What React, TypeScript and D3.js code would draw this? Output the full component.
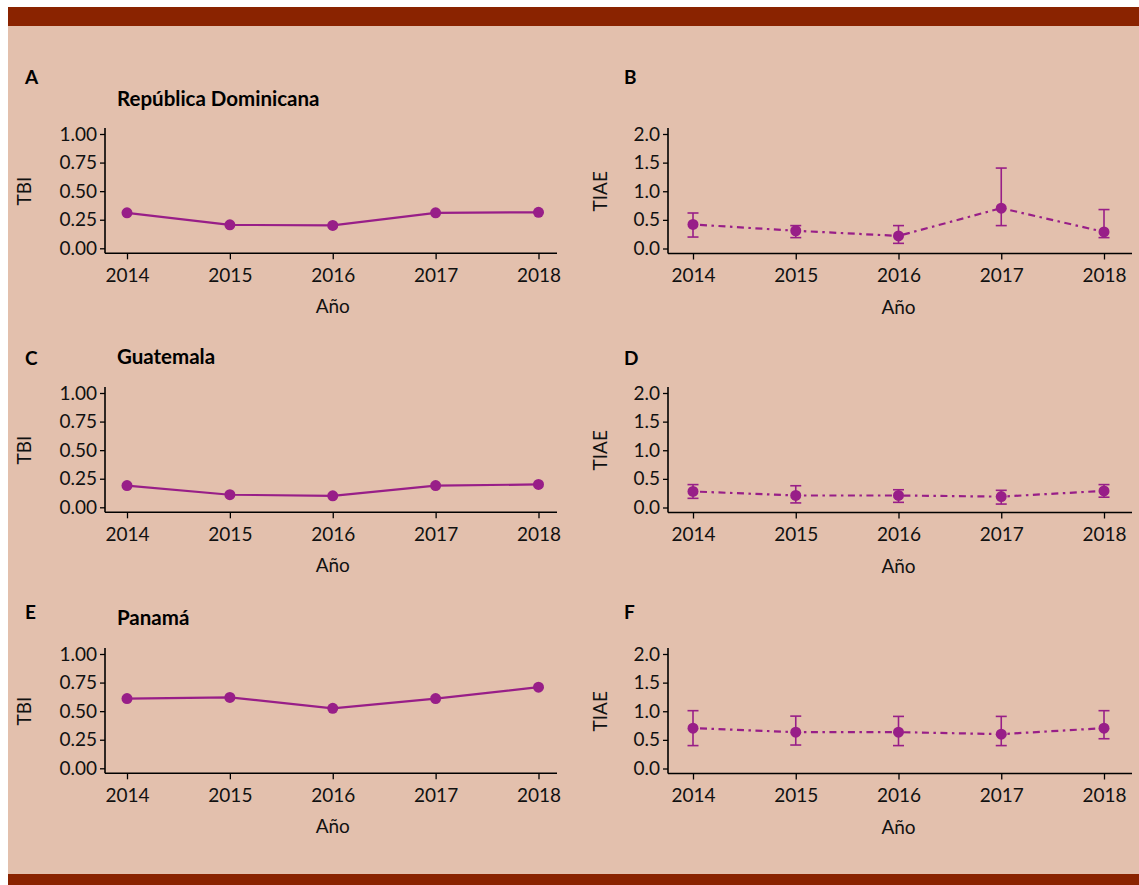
import React, { useEffect, useRef } from "react";
import * as d3 from "d3";

const years = [2014, 2015, 2016, 2017, 2018];

// TBI per country
const tbiRD = [0.31, 0.205, 0.2, 0.31, 0.315];
const tbiGT = [0.19, 0.11, 0.1, 0.19, 0.2];
const tbiPA = [0.61, 0.62, 0.525, 0.61, 0.71];

// TIAE estimate with lower/upper limits
const tiaeRD = [0.42, 0.31, 0.22, 0.705, 0.29];
const tiaeRDLow = [0.2, 0.19, 0.09, 0.4, 0.19];
const tiaeRDHigh = [0.62, 0.4, 0.4, 1.405, 0.68];

const tiaeGT = [0.28, 0.21, 0.21, 0.19, 0.29];
const tiaeGTLow = [0.16, 0.08, 0.09, 0.06, 0.18];
const tiaeGTHigh = [0.4, 0.38, 0.31, 0.3, 0.4];

const tiaePA = [0.705, 0.635, 0.635, 0.6, 0.705];
const tiaePALow = [0.4, 0.41, 0.4, 0.4, 0.52];
const tiaePAHigh = [1.01, 0.915, 0.91, 0.91, 1.01];

const countries = ["República Dominicana", "Guatemala", "Panamá"];
const leftLetters = ["A", "C", "E"];
const rightLetters = ["B", "D", "F"];
const tbiTicks = [0, 0.25, 0.5, 0.75, 1];
const tiaeTicks = [0, 0.5, 1, 1.5, 2];

const COLOR = "#981e88";
const FONT = "Lato, 'Open Sans', sans-serif";

const App = () => {
  const ref = useRef<SVGSVGElement>(null);

  useEffect(() => {
    const svg = d3.select(ref.current);
    svg.selectAll("*").remove();

    // page background and bars
    svg.append("rect").attr("width", 1139).attr("height", 885).attr("fill", "#fff");
    svg.append("rect").attr("x", 8).attr("y", 7).attr("width", 1131).attr("height", 878).attr("fill", "#e3c0ad");
    svg.append("rect").attr("x", 8).attr("y", 7).attr("width", 1131).attr("height", 19).attr("fill", "#8a2300");
    svg.append("rect").attr("x", 8).attr("y", 874).attr("width", 1131).attr("height", 11).attr("fill", "#8a2300");

    const rowOffsets = [0, 259, 520];
    const tbiSets = [tbiRD, tbiGT, tbiPA];
    const tiaeSets = [
      [tiaeRD, tiaeRDLow, tiaeRDHigh],
      [tiaeGT, tiaeGTLow, tiaeGTHigh],
      [tiaePA, tiaePALow, tiaePAHigh],
    ];
    const letterY = [77, 358, 612];
    const titleY = [99, 357, 618];

    const drawAxes = (g, x, y, ticks, fmt, axisLeftX, axisRightX, yLabel, labelX) => {
      const base = y.range()[0] + 5;
      const top = y.range()[1] - 6;
      g.append("line").attr("x1", axisLeftX).attr("x2", axisRightX).attr("y1", base).attr("y2", base)
        .attr("stroke", "#000").attr("stroke-width", 1.6);
      g.append("line").attr("x1", axisLeftX).attr("x2", axisLeftX).attr("y1", top).attr("y2", base)
        .attr("stroke", "#000").attr("stroke-width", 1.6);

      const yAxis = g.append("g")
        .attr("transform", `translate(${axisLeftX},0)`)
        .call(d3.axisLeft(y).tickValues(ticks).tickFormat(fmt).tickSize(5).tickPadding(3));
      yAxis.select(".domain").remove();

      const xAxis = g.append("g")
        .attr("transform", `translate(0,${base})`)
        .call(d3.axisBottom(x).tickValues(years).tickFormat(d3.format("d")).tickSize(6).tickPadding(9));
      xAxis.select(".domain").remove();

      g.selectAll(".tick line").attr("stroke", "#000").attr("stroke-width", 1.3);
      g.selectAll(".tick text").attr("font-family", FONT).attr("font-size", 19).attr("fill", "#111");

      g.append("text")
        .attr("x", (x(2014) + x(2018)) / 2)
        .attr("y", base + 60)
        .attr("text-anchor", "middle")
        .attr("font-family", FONT).attr("font-size", 19).attr("fill", "#111")
        .text("Año");

      g.append("text")
        .attr("transform", `translate(${labelX},${(y.range()[0] + y.range()[1]) / 2}) rotate(-90)`)
        .attr("text-anchor", "middle")
        .attr("font-family", FONT).attr("font-size", 19).attr("fill", "#111")
        .text(yLabel);
    };

    rowOffsets.forEach((off, i) => {
      // left panel: TBI
      const gL = svg.append("g");
      const xL = d3.scaleLinear().domain([2014, 2018]).range([127, 538.5]);
      const yL = d3.scaleLinear().domain([0, 1]).range([248.3 + off, 134 + off]);
      drawAxes(gL, xL, yL, tbiTicks, d3.format(".2f"), 105, 557, "TBI", 31);

      const tbi = tbiSets[i];
      gL.append("path")
        .datum(years.map((yr, k) => [yr, tbi[k]]))
        .attr("fill", "none").attr("stroke", COLOR).attr("stroke-width", 2.2)
        .attr("d", d3.line().x((d) => xL(d[0])).y((d) => yL(d[1])));
      gL.selectAll(".pt").data(years).join("circle")
        .attr("cx", (d) => xL(d)).attr("cy", (d, k) => yL(tbi[k])).attr("r", 5.5).attr("fill", COLOR);

      gL.append("text").attr("x", 25).attr("y", letterY[i] + 7)
        .attr("font-family", FONT).attr("font-weight", "bold").attr("font-size", 19).attr("fill", "#000")
        .text(leftLetters[i]);
      gL.append("text").attr("x", 117).attr("y", titleY[i] + 7)
        .attr("font-family", FONT).attr("font-weight", "bold").attr("font-size", 20.5).attr("fill", "#000")
        .text(countries[i]);

      // right panel: TIAE
      const gR = svg.append("g");
      const xR = d3.scaleLinear().domain([2014, 2018]).range([693, 1104]);
      const yR = d3.scaleLinear().domain([0, 2]).range([248.5 + off, 134 + off]);
      drawAxes(gR, xR, yR, tiaeTicks, d3.format(".1f"), 668, 1132, "TIAE", 607);

      const [est, low, high] = tiaeSets[i];
      gR.append("path")
        .datum(years.map((yr, k) => [yr, est[k]]))
        .attr("fill", "none").attr("stroke", COLOR).attr("stroke-width", 2.2)
        .attr("stroke-dasharray", "2.5,4.5,7,4.5")
        .attr("d", d3.line().x((d) => xR(d[0])).y((d) => yR(d[1])));

      const bars = gR.selectAll(".err").data(years).join("g");
      bars.append("line")
        .attr("x1", (d) => xR(d)).attr("x2", (d) => xR(d))
        .attr("y1", (d, k) => yR(low[k])).attr("y2", (d, k) => yR(high[k]))
        .attr("stroke", COLOR).attr("stroke-width", 1.6);
      [low, high].forEach((lim) => {
        bars.append("line")
          .attr("x1", (d) => xR(d) - 5.5).attr("x2", (d) => xR(d) + 5.5)
          .attr("y1", (d, k) => yR(lim[k])).attr("y2", (d, k) => yR(lim[k]))
          .attr("stroke", COLOR).attr("stroke-width", 1.6);
      });
      gR.selectAll(".pt").data(years).join("circle")
        .attr("cx", (d) => xR(d)).attr("cy", (d, k) => yR(est[k])).attr("r", 5.5).attr("fill", COLOR);

      gR.append("text").attr("x", 624).attr("y", letterY[i] + 7)
        .attr("font-family", FONT).attr("font-weight", "bold").attr("font-size", 19).attr("fill", "#000")
        .text(rightLetters[i]);
    });
  }, []);

  return (
    <svg
      ref={ref}
      width={1139}
      height={885}
      style={{ position: "absolute", left: 0, top: 0 }}
    />
  );
};

export default App;
